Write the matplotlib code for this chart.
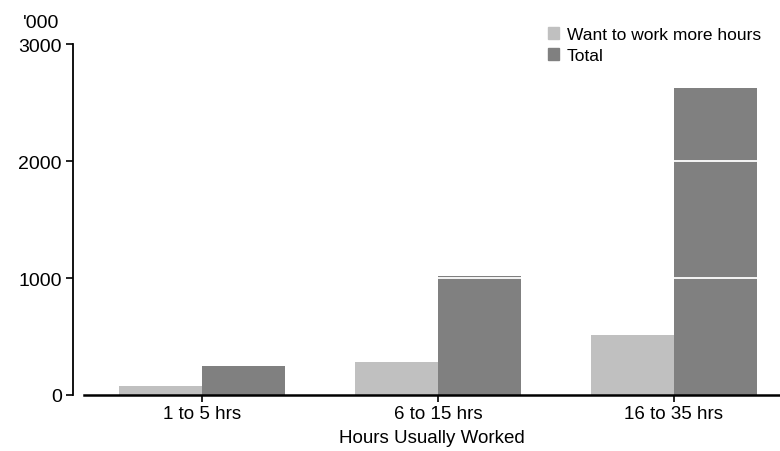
import numpy as np
from matplotlib import pyplot as plt
from matplotlib.patches import Patch

plt.rcParams['font.family'] = ['Liberation Sans', 'DejaVu Sans']

categories = ['1 to 5 hrs', '6 to 15 hrs', '16 to 35 hrs']
want_more = [75, 282, 513]
total = [248, 1017, 2628]
yticks = [0, 1000, 2000, 3000]

light = '#c0c0c0'
dark = '#808080'

fig = plt.figure(figsize=(7.8, 4.52), dpi=100)
ax = fig.add_axes([0.1077, 0.1239, 0.8923, 0.7765])

x = np.arange(len(categories))
w = 0.352
ax.bar(x - w/2, want_more, w, color=light, zorder=2)
ax.bar(x + w/2, total, w, color=dark, zorder=2)

# white gridlines drawn over the bars
for v in yticks[1:-1]:
    ax.axhline(v, color='white', lw=1.3, zorder=3)

ax.set_xlim(-0.5, 2.45)
ax.set_ylim(0, 3000)
ax.set_yticks(yticks)
ax.set_xticks(x)
ax.set_xticklabels(categories)
ax.tick_params(axis='y', labelsize=14, length=5, width=1.2, color='black', pad=3)
ax.tick_params(axis='x', labelsize=13.5, length=5, width=1.2, color='black', pad=2)

for s in ['top', 'right']:
    ax.spines[s].set_visible(False)
ax.spines['left'].set_position(('outward', 8))
ax.spines['left'].set_linewidth(1.3)
ax.spines['bottom'].set_linewidth(1.8)

ax.set_xlabel('Hours Usually Worked', fontsize=13.5, labelpad=5)
fig.text(0.053, 0.947, "'000", fontsize=14, ha='center', va='center')

handles = [Patch(color=light, label='Want to work more hours'),
           Patch(color=dark, label='Total')]
leg = fig.legend(handles=handles, loc='upper left', bbox_to_anchor=(0.702, 0.938),
                 frameon=False, fontsize=12.5, handlelength=0.65, handleheight=0.65,
                 handletextpad=0.45, labelspacing=0.35, borderaxespad=0, borderpad=0)

fig.savefig('out.png', dpi=100)
